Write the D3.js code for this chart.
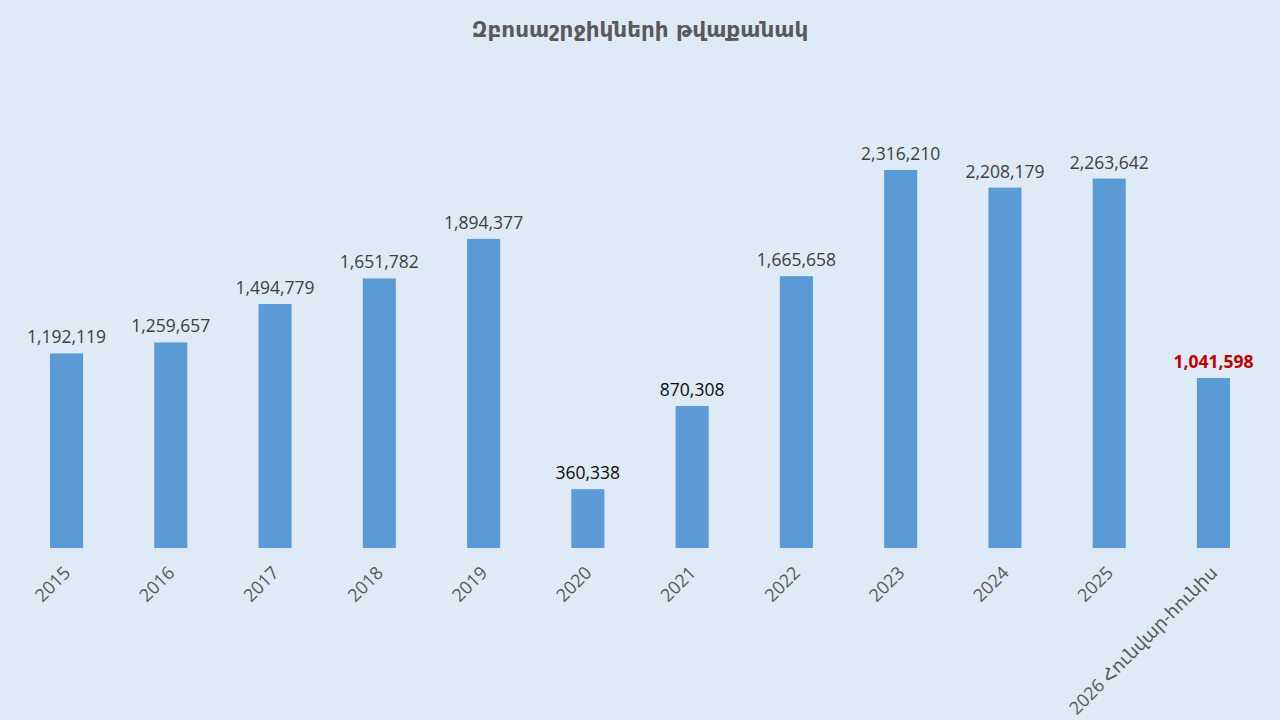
<!DOCTYPE html>
<html>
<head>
<meta charset="utf-8">
<script src="https://cdn.jsdelivr.net/npm/d3@7"></script>
<style>
  body { margin: 0; background: #DEEAF6; }
  svg { display: block; }
  .title { font-family: "DejaVu Sans", sans-serif; font-weight: bold; font-size: 21.5px; fill: #595959; }
  .val { font-family: "Open Sans", "DejaVu Sans", sans-serif; font-size: 17.5px; }
  .xlab { font-family: "Open Sans", "DejaVu Sans", sans-serif; font-size: 18px; fill: #595959; }
</style>
</head>
<body>
<div class="graph"></div>
<script>
// categories and values
const years = ["2015","2016","2017","2018","2019","2020","2021","2022","2023","2024","2025","2026 Հունվար-հունիս"];
const visitors = [1192119,1259657,1494779,1651782,1894377,360338,870308,1665658,2316210,2208179,2263642,1041598];
const labelColors = ["#404040","#404040","#404040","#404040","#404040","#0d0d0d","#0d0d0d","#404040","#404040","#404040","#404040","#C00000"];

const w = 1280;
const h = 720;
const base = 548;

const xScale = d3.scaleBand()
                 .domain(years)
                 .range([14.4, 1265.6])
                 .paddingInner(0.683)
                 .paddingOuter(0.3415);

const yScale = d3.scaleLinear()
                 .domain([0, 2500000])
                 .range([base, 140]);

const fmt = d3.format(",");

var svg = d3.select(".graph")
            .append("svg")
            .attr("width", w)
            .attr("height", h);

svg.append("rect")
   .attr("width", w).attr("height", h)
   .attr("fill", "#DEEAF6");

svg.append("text")
   .attr("class", "title")
   .attr("x", w/2)
   .attr("y", 37)
   .attr("text-anchor", "middle")
   .text("Զբոսաշրջիկների թվաքանակ");

svg.selectAll(".bar")
   .data(years)
   .enter()
   .append("rect")
   .attr("class", "bar")
   .attr("x", d => xScale(d))
   .attr("width", xScale.bandwidth())
   .attr("y", (d,i) => yScale(visitors[i]))
   .attr("height", (d,i) => base - yScale(visitors[i]))
   .attr("fill", "#5B9BD5");

svg.selectAll(".val")
   .data(years)
   .enter()
   .append("text")
   .attr("class", "val")
   .attr("x", d => xScale(d) + xScale.bandwidth()/2)
   .attr("y", (d,i) => yScale(visitors[i]) - 10)
   .attr("text-anchor", "middle")
   .attr("fill", (d,i) => labelColors[i])
   .attr("font-weight", (d,i) => i === years.length-1 ? "bold" : "normal")
   .text((d,i) => fmt(visitors[i]));

const xAxis = d3.axisBottom(xScale).tickSize(0).tickPadding(0);

const gx = svg.append("g")
   .attr("transform", "translate(0," + base + ")")
   .call(xAxis);

gx.select(".domain").remove();
gx.selectAll("text")
  .attr("class", "xlab")
  .attr("font-size", null)
  .attr("font-family", null)
  .attr("fill", null)
  .attr("text-anchor", "end")
  .attr("dy", null)
  .attr("y", 0)
  .attr("transform", "translate(5,26) rotate(-45)");
</script>
</body>
</html>
